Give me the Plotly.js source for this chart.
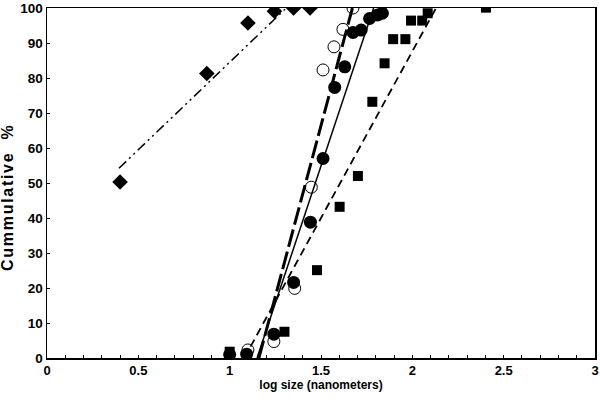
<!DOCTYPE html>
<html>
<head>
<meta charset="utf-8">
<script src="https://cdn.plot.ly/plotly-3.0.1.min.js"></script>
<style>
html,body{margin:0;padding:0;background:#fff;}
#chart{width:600px;height:405px;}
.annotation-text{letter-spacing:1.7px;}
</style>
</head>
<body>
<div id="chart"></div>
<script>
// Data
const diamondX = [0.40, 0.875, 1.10, 1.245, 1.35, 1.44];
const diamondY = [50.3, 81.3, 95.7, 99.1, 100, 100];
const diamondFitX = [0.394, 1.31];
const diamondFitY = [54.2, 100];

const openX = [1.10, 1.242, 1.356, 1.447, 1.511, 1.571, 1.62, 1.675];
const openY = [2.3, 4.7, 19.9, 48.8, 82.3, 88.9, 93.9, 100];
const openFitX = [1.16, 1.672];
const openFitY = [0, 100];

const filledX = [1.00, 1.093, 1.242, 1.35, 1.442, 1.511, 1.575, 1.63, 1.675, 1.72, 1.766, 1.81, 1.836];
const filledY = [1.0, 1.1, 6.8, 21.6, 38.8, 57.0, 77.3, 83.2, 93.0, 93.7, 97.0, 98.0, 98.5];
const filledFitX = [1.15, 1.788];
const filledFitY = [0, 100];

const squareX = [1.00, 1.30, 1.478, 1.602, 1.702, 1.781, 1.848, 1.895, 1.962, 1.993, 2.054, 2.084, 2.403];
const squareY = [1.8, 7.5, 25.1, 43.2, 52.0, 73.2, 84.2, 91.1, 91.1, 96.4, 96.4, 98.5, 100.1];
const squareFitX = [1.08, 2.13];
const squareFitY = [0, 100];

const xTickVals = [0, 0.5, 1, 1.5, 2, 2.5, 3];
const xTickText = ['0', '0.5', '1', '1.5', '2', '2.5', '3'];
const yTickVals = [0, 10, 20, 30, 40, 50, 60, 70, 80, 90, 100];
const xTitle = 'log size (nanometers)';
const yTitle = 'Cummulative\u00a0\u00a0%';

const traces = [
  {x: diamondFitX, y: diamondFitY, mode: 'lines', line: {color: '#000', width: 1.5, dash: '10px,4px,2px,4px,2px,4px'}, hoverinfo: 'skip'},
  {x: openFitX, y: openFitY, mode: 'lines', line: {color: '#000', width: 3, dash: '18px,5px'}, hoverinfo: 'skip'},
  {x: filledFitX, y: filledFitY, mode: 'lines', line: {color: '#000', width: 1.5}, hoverinfo: 'skip'},
  {x: squareFitX, y: squareFitY, mode: 'lines', line: {color: '#000', width: 1.8, dash: '8px,5px'}, hoverinfo: 'skip'},
  {x: diamondX, y: diamondY, mode: 'markers', marker: {symbol: 'diamond', size: 12, color: '#000'}},
  {x: squareX, y: squareY, mode: 'markers', marker: {symbol: 'square', size: 10, color: '#000'}},
  {x: openX, y: openY, mode: 'markers', marker: {symbol: 'circle-open', size: 12, color: '#000', line: {width: 1, color: '#000'}}},
  {x: filledX, y: filledY, mode: 'markers', marker: {symbol: 'circle', size: 13, color: '#000'}}
];

const fam = 'Liberation Sans, Arial, sans-serif';

const layout = {
  width: 600, height: 405,
  margin: {l: 47, r: 5, t: 8, b: 47},
  paper_bgcolor: '#fff', plot_bgcolor: '#fff',
  showlegend: false,
  font: {family: fam, size: 12, color: '#000'},
  xaxis: {
    range: [0, 3], tickvals: xTickVals, ticktext: xTickText,
    showgrid: false, zeroline: false,
    showline: true, linecolor: '#000', linewidth: 1.5, mirror: true,
    ticks: 'inside', ticklen: 3, tickcolor: '#000',
    minor: {dtick: 0.1, ticks: 'inside', ticklen: 3, tickcolor: '#000', showgrid: false},
    tickfont: {family: fam, size: 13, color: '#000', weight: 'bold'},
    title: {text: '<b>' + xTitle + '</b>', font: {family: fam, size: 12, color: '#000'}, standoff: 3}
  },
  yaxis: {
    range: [0, 100], tickvals: yTickVals,
    showgrid: false, zeroline: false,
    showline: true, linecolor: '#000', linewidth: 1.5, mirror: true,
    ticks: 'inside', ticklen: 3, tickcolor: '#000',
    tickfont: {family: fam, size: 13.5, color: '#000', weight: 'bold'}
  },
  annotations: [{
    text: '<b>' + yTitle + '</b>', textangle: -90,
    xref: 'paper', yref: 'paper', x: -0.072, y: 0.459,
    xanchor: 'center', yanchor: 'middle', showarrow: false,
    font: {family: fam, size: 16, color: '#000'}
  }]
};

Plotly.newPlot('chart', traces, layout, {staticPlot: true, displayModeBar: false});
</script>
</body>
</html>
